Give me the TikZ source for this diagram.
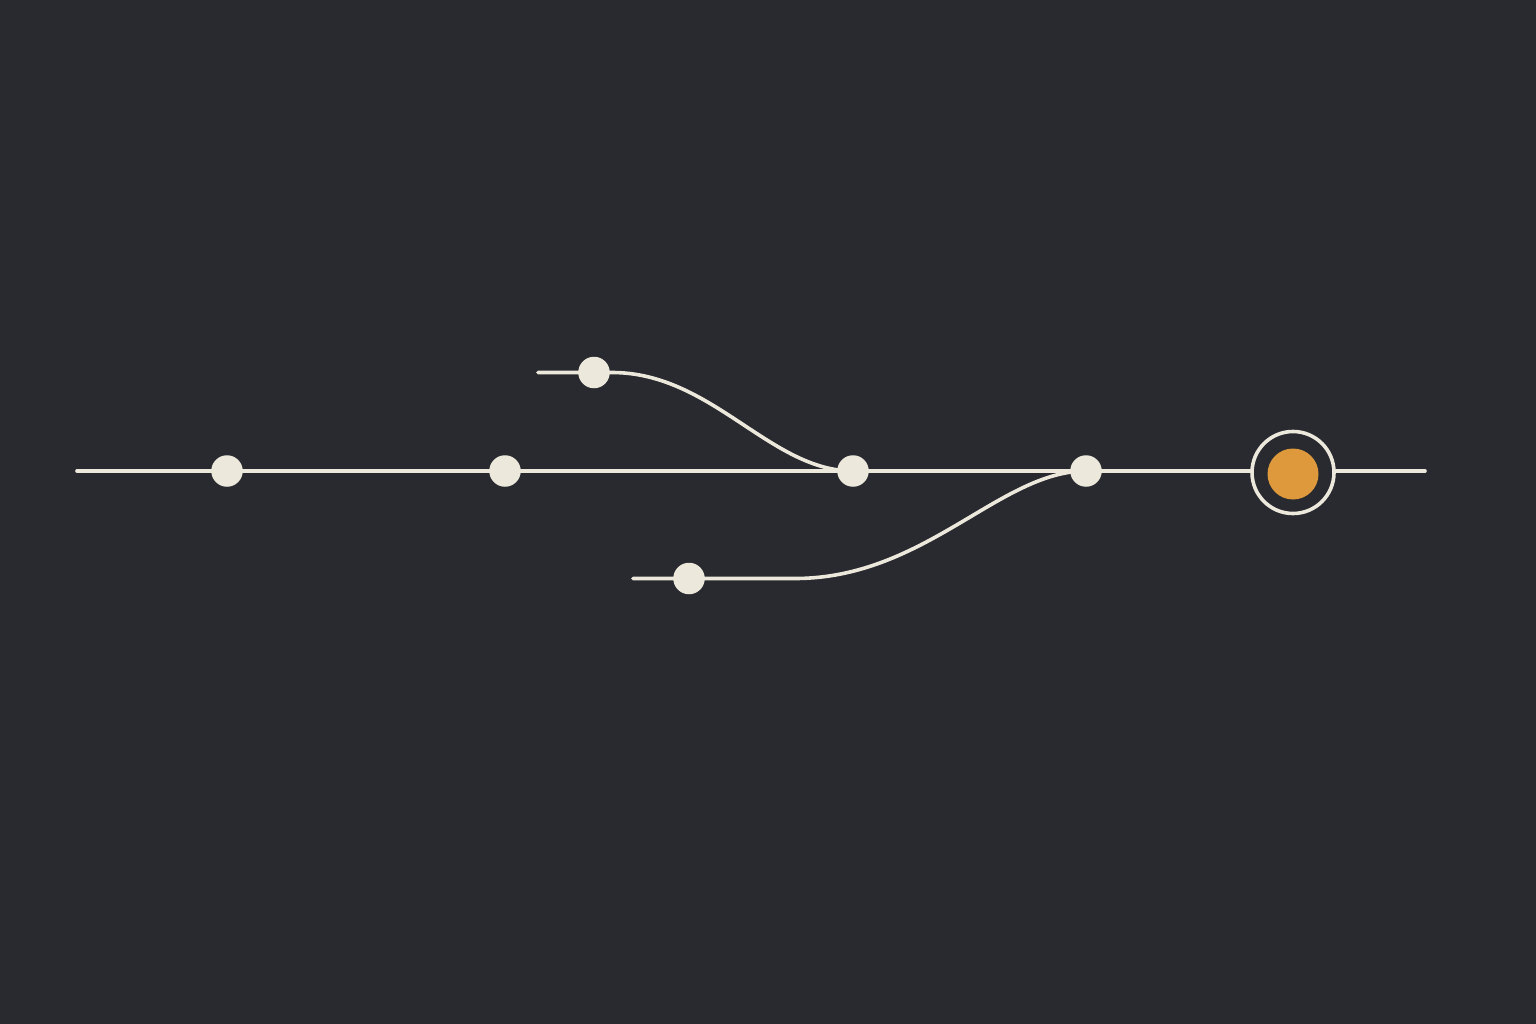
\documentclass[tikz,border=0pt]{standalone}
\definecolor{bg}{HTML}{282A2F}
\definecolor{cream}{HTML}{ECE8DC}
\definecolor{amber}{HTML}{DD993B}
\pgfdeclarelayer{bglayer}
\pgfdeclarelayer{linelayer}
\pgfsetlayers{bglayer,linelayer,main}
\tikzset{
  track/.style={draw=cream, line width=3.6pt, line cap=round},
  stop/.style={circle, fill=cream, draw=none, minimum size=31.5pt, inner sep=0pt},
  goal/.style={circle, draw=cream, line width=3.6pt, fill=bg, minimum size=82pt, inner sep=0pt},
  goalcore/.style={circle, fill=amber, draw=none, minimum size=51pt, inner sep=0pt}
}
\begin{document}
\begin{tikzpicture}[x=1pt, y=-1pt]
  \begin{pgfonlayer}{bglayer}
    \fill[bg] (0,0) rectangle (1536,1024);
  \end{pgfonlayer}
  \useasboundingbox (0,0) rectangle (1536,1024);

  % free ends
  \coordinate (ms) at (77,471);
  \coordinate (me) at (1425,471);
  \coordinate (us) at (538,372.5);
  \coordinate (uk) at (612,372.5);
  \coordinate (ls) at (633,578.5);
  \coordinate (lk) at (795,578.5);

  % nodes
  \node[stop] (d1) at (227,471) {};
  \node[stop] (d2) at (505,471) {};
  \node[stop] (d3) at (853,471) {};
  \node[stop] (d4) at (1086,471) {};
  \node[stop] (u1) at (594,372.5) {};
  \node[stop] (l1) at (689,578.5) {};
  \node[goal] (g) at (1293,472.5) {};
  \node[goalcore] (gc) at (1293,474) {};

  % connectors
  \begin{pgfonlayer}{linelayer}
    \draw[track] (ms) -- (d1.center) -- (d2.center) -- (d3.center) -- (d4.center) -- (g.west |- d4.center);
    \draw[track] (g.east |- me) -- (me);
    \draw[track] (us) -- (u1.center) -- (uk) .. controls (712,372.5) and (770,471) .. (d3.center);
    \draw[track] (ls) -- (l1.center) -- (lk) .. controls (925,578.5) and (1000,471) .. (d4.center);
  \end{pgfonlayer}
\end{tikzpicture}
\end{document}
